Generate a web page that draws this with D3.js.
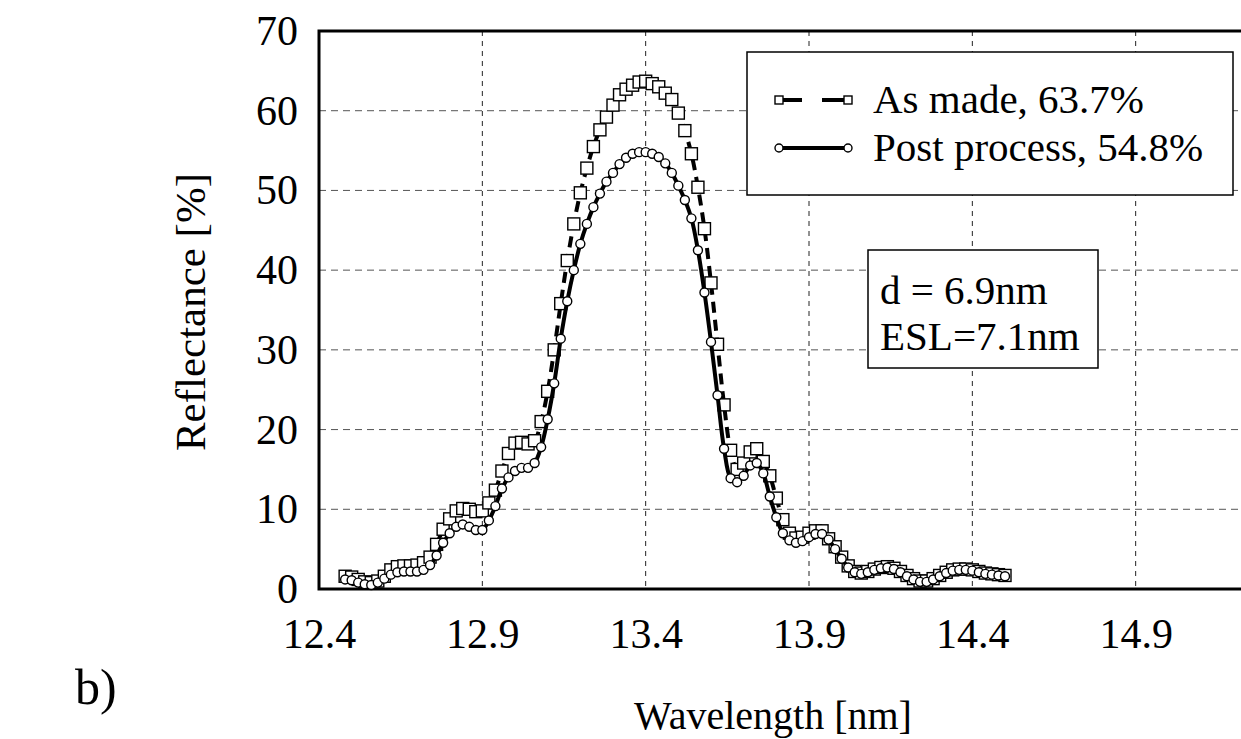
<!DOCTYPE html>
<html>
<head>
<meta charset="utf-8">
<script src="https://cdn.jsdelivr.net/npm/d3@7/dist/d3.min.js"></script>
<style>
    body { margin: 0; background: #fff; }
    svg { display: block; }
    svg text { font-family: "Liberation Serif", "Times New Roman", serif; fill: #000; }
</style>
</head>
<body>
<div id="chart"></div>
<script>
// wavelength grid [nm]
var wavelength = [
    12.48, 12.50, 12.52, 12.54, 12.56, 12.58, 12.60, 12.62, 12.64, 12.66,
    12.68, 12.70, 12.72, 12.74, 12.76, 12.78, 12.80, 12.82, 12.84, 12.86,
    12.88, 12.90, 12.92, 12.94, 12.96, 12.98, 13.00, 13.02, 13.04, 13.06,
    13.08, 13.10, 13.12, 13.14, 13.16, 13.18, 13.20, 13.22, 13.24, 13.26,
    13.28, 13.30, 13.32, 13.34, 13.36, 13.38, 13.40, 13.42, 13.44, 13.46,
    13.48, 13.50, 13.52, 13.54, 13.56, 13.58, 13.60, 13.62, 13.64, 13.66,
    13.68, 13.70, 13.72, 13.74, 13.76, 13.78, 13.80, 13.82, 13.84, 13.86,
    13.88, 13.90, 13.92, 13.94, 13.96, 13.98, 14.00, 14.02, 14.04, 14.06,
    14.08, 14.10, 14.12, 14.14, 14.16, 14.18, 14.20, 14.22, 14.24, 14.26,
    14.28, 14.30, 14.32, 14.34, 14.36, 14.38, 14.40, 14.42, 14.44, 14.46,
    14.48, 14.50
];
// As made, 63.7%
var asMade = [
    1.6, 1.5, 1.2, 0.9, 0.8, 1.0, 1.6, 2.4, 2.8, 2.9,
    2.9, 3.0, 3.3, 4.0, 5.6, 7.5, 8.8, 9.8, 10.1, 10.0,
    9.7, 9.8, 10.8, 12.4, 14.8, 17.0, 18.3, 18.4, 18.2, 18.6,
    21.0, 24.8, 30.0, 35.8, 41.2, 45.8, 49.7, 52.8, 55.5, 57.6,
    59.2, 60.7, 62.0, 62.7, 63.2, 63.6, 63.7, 63.4, 63.0, 62.2,
    61.4, 59.7, 57.5, 54.6, 50.4, 45.2, 38.4, 30.7, 23.1, 17.4,
    15.0, 15.8, 17.2, 17.6, 16.0, 14.2, 11.4, 8.7, 7.0, 6.4,
    6.5, 7.0, 7.3, 7.3, 6.3, 5.3, 4.0, 2.9, 2.2, 2.0,
    2.2, 2.5, 2.7, 2.8, 2.6, 2.2, 1.7, 1.3, 1.0, 1.0,
    1.3, 1.7, 2.1, 2.4, 2.5, 2.5, 2.4, 2.2, 2.0, 1.9,
    1.8, 1.7
];
// Post process, 54.8%
var postProcess = [
    1.2, 1.1, 0.8, 0.6, 0.5, 0.8, 1.3, 1.8, 2.1, 2.2,
    2.2, 2.2, 2.4, 3.0, 4.2, 5.8, 7.0, 7.8, 8.1, 7.8,
    7.4, 7.4, 8.6, 10.4, 12.6, 14.0, 14.8, 15.2, 15.2, 15.8,
    17.8, 21.3, 25.8, 31.4, 36.1, 40.0, 43.3, 45.8, 47.9, 49.6,
    51.1, 52.2, 53.3, 54.1, 54.6, 54.8, 54.8, 54.6, 54.2, 53.4,
    52.2, 50.6, 48.8, 46.5, 42.5, 37.2, 31.0, 24.3, 17.6, 13.9,
    13.4, 14.2, 15.5, 15.8, 14.5, 11.6, 9.0, 7.0, 6.1, 5.8,
    6.0, 6.5, 6.9, 6.9, 6.2, 5.0, 3.8, 2.7, 2.1, 1.9,
    2.1, 2.4, 2.6, 2.7, 2.5, 2.1, 1.6, 1.2, 0.9, 0.9,
    1.2, 1.6, 2.0, 2.3, 2.4, 2.4, 2.3, 2.1, 1.9, 1.8,
    1.7, 1.6
];
// tick labels
var xTicks = [12.4, 12.9, 13.4, 13.9, 14.4, 14.9];
var yTicks = [0, 10, 20, 30, 40, 50, 60, 70];
var legendNames = ['As made, 63.7%', 'Post process, 54.8%'];
var noteLines = ['d = 6.9nm', 'ESL=7.1nm'];

var width = 1241, height = 739;

var svg = d3.select('#chart').append('svg')
    .attr('width', width)
    .attr('height', height);

// scales: the plot runs on past the right edge of the picture (to 15.4)
var x = d3.scaleLinear().domain([12.4, 15.4]).range([319, 1299]);
var y = d3.scaleLinear().domain([0, 70]).range([589, 31]);

// grid
var grid = svg.append('g').attr('class', 'grid');
grid.selectAll('line.v')
    .data(xTicks.slice(1))
    .enter().append('line')
    .attr('x1', function (d) { return x(d); })
    .attr('x2', function (d) { return x(d); })
    .attr('y1', y(70)).attr('y2', y(0))
    .style('stroke', '#222').style('stroke-width', 1)
    .style('stroke-dasharray', '5,5');
grid.selectAll('line.h')
    .data(yTicks.slice(1, -1))
    .enter().append('line')
    .attr('x1', x(12.4)).attr('x2', width)
    .attr('y1', function (d) { return y(d); })
    .attr('y2', function (d) { return y(d); })
    .style('stroke', '#555').style('stroke-width', 1)
    .style('stroke-dasharray', '7,5');

// axes, ticks removed
var xAxis = svg.append('g')
    .attr('transform', 'translate(0,' + y(0) + ')')
    .call(d3.axisBottom(x).tickValues(xTicks).tickSize(0).tickPadding(29).tickFormat(d3.format('.1f')));
xAxis.select('path').remove();
xAxis.attr('font-family', null);
xAxis.selectAll('text').style('font-size', '42px');

var yAxis = svg.append('g')
    .attr('transform', 'translate(' + x(12.4) + ',0)')
    .call(d3.axisLeft(y).tickValues(yTicks).tickSize(0).tickPadding(21));
yAxis.select('path').remove();
yAxis.attr('font-family', null);
yAxis.selectAll('text').style('font-size', '42px');

// frame: left, bottom and top (no right edge in view)
svg.append('path')
    .attr('d', 'M' + width + ',' + y(70) + 'H' + x(12.4) + 'V' + y(0) + 'H' + width)
    .style('fill', 'none').style('stroke', '#000').style('stroke-width', 3);

// series
var pts1 = wavelength.map(function (d, i) { return [x(d), y(asMade[i])]; });
var pts2 = wavelength.map(function (d, i) { return [x(d), y(postProcess[i])]; });
var line = d3.line().curve(d3.curveCatmullRom);

svg.append('path')
    .attr('d', line(pts1))
    .style('fill', 'none').style('stroke', '#000').style('stroke-width', 4)
    .style('stroke-dasharray', '11,7');
svg.selectAll('rect.sq')
    .data(pts1)
    .enter().append('rect')
    .attr('class', 'sq')
    .attr('x', function (d) { return d[0] - 6; })
    .attr('y', function (d) { return d[1] - 6; })
    .attr('width', 12).attr('height', 12)
    .style('fill', '#fff').style('stroke', '#000').style('stroke-width', 1.4);

svg.append('path')
    .attr('d', line(pts2))
    .style('fill', 'none').style('stroke', '#000').style('stroke-width', 4);
svg.selectAll('circle.ci')
    .data(pts2)
    .enter().append('circle')
    .attr('class', 'ci')
    .attr('cx', function (d) { return d[0]; })
    .attr('cy', function (d) { return d[1]; })
    .attr('r', 4.5)
    .style('fill', '#fff').style('stroke', '#000').style('stroke-width', 1.4);

// legend
var lg = svg.append('g').attr('class', 'legend');
lg.append('rect')
    .attr('x', 747).attr('y', 52).attr('width', 486).attr('height', 143)
    .style('fill', '#fff').style('stroke', '#000').style('stroke-width', 1.5);
// as made symbol: square, short dash, gap, dash, square
[[782, 802], [822, 846]].forEach(function (s) {
    lg.append('line')
        .attr('x1', s[0]).attr('x2', s[1]).attr('y1', 100).attr('y2', 100)
        .style('stroke', '#000').style('stroke-width', 4);
});
[779, 848].forEach(function (cx) {
    lg.append('rect')
        .attr('x', cx - 4).attr('y', 96).attr('width', 8).attr('height', 8)
        .style('fill', '#fff').style('stroke', '#000').style('stroke-width', 1.4);
});
// post process symbol
lg.append('line')
    .attr('x1', 779).attr('x2', 848).attr('y1', 148).attr('y2', 148)
    .style('stroke', '#000').style('stroke-width', 4);
[779, 848].forEach(function (cx) {
    lg.append('circle')
        .attr('cx', cx).attr('cy', 148).attr('r', 4)
        .style('fill', '#fff').style('stroke', '#000').style('stroke-width', 1.4);
});
lg.selectAll('text')
    .data(legendNames)
    .enter().append('text')
    .attr('x', 873)
    .attr('y', function (d, i) { return 113 + i * 48; })
    .style('font-size', '41px')
    .text(function (d) { return d; });

// note box
var nb = svg.append('g');
nb.append('rect')
    .attr('x', 868).attr('y', 250).attr('width', 230).attr('height', 118)
    .style('fill', '#fff').style('stroke', '#000').style('stroke-width', 1.5);
nb.selectAll('text')
    .data(noteLines)
    .enter().append('text')
    .attr('x', 880)
    .attr('y', function (d, i) { return 304 + i * 46; })
    .style('font-size', '41px')
    .text(function (d) { return d; });

// axis titles
svg.append('text')
    .attr('x', 773).attr('y', 729)
    .attr('text-anchor', 'middle')
    .style('font-size', '40px')
    .text('Wavelength [nm]');
svg.append('text')
    .attr('transform', 'translate(205,312) rotate(-90)')
    .attr('text-anchor', 'middle')
    .style('font-size', '43px')
    .text('Reflectance [%]');
svg.append('text')
    .attr('x', 75).attr('y', 704)
    .style('font-size', '50px')
    .text('b)');
</script>
</body>
</html>
